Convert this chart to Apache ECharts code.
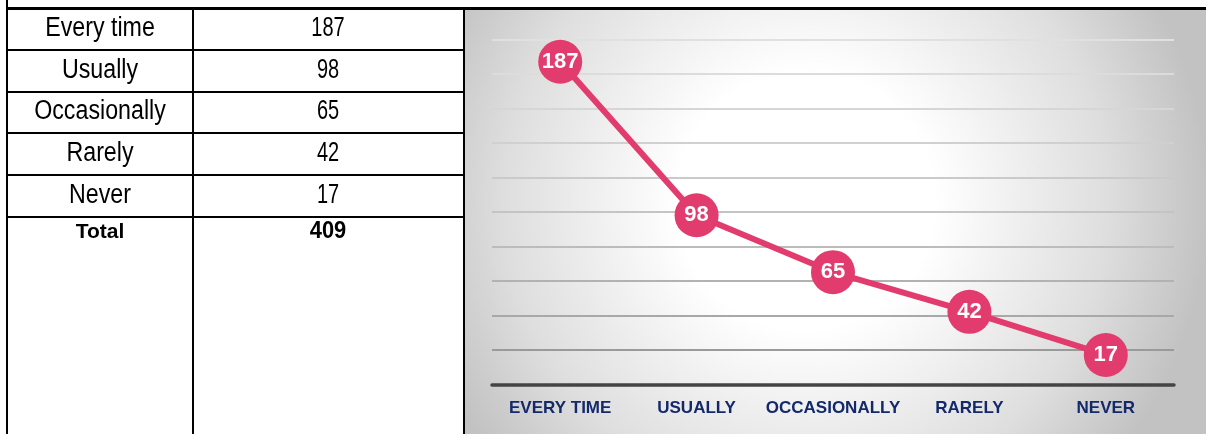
<!DOCTYPE html>
<html>
<head>
<meta charset="utf-8">
<script src="https://cdn.jsdelivr.net/npm/echarts@6/dist/echarts.min.js"></script>
<style>
  html, body { margin: 0; padding: 0; background: #fff; }
  #chart { width: 1206px; height: 434px; }
</style>
</head>
<body>
<div id="chart"></div>
<script>
// Survey responses: how often respondents do it
const rowLabels = ['Every time', 'Usually', 'Occasionally', 'Rarely', 'Never'];
const responseCounts = [187, 98, 65, 42, 17];
const totalLabel = 'Total';
const totalCount = 409;
const axisCategories = ['EVERY TIME', 'USUALLY', 'OCCASIONALLY', 'RARELY', 'NEVER'];
const yMin = 0;
const yMax = 200;
const yStep = 20;

// Gridline shading, bottom line first, fading upward
const gridShades = ['#9a9a9a', '#9a9a9a', '#a8a8a8', '#b2b2b2', '#bcbcbc', '#c4c4c4',
                    '#cacaca', '#d0d0d0', '#d6d6d6', '#dcdcdc', '#e0e0e0'];

const PINK = '#e23c6e';
const NAVY = '#13296b';

// Table geometry
const colX = [7, 193, 463];
const rowY = [8.5, 50, 92, 133, 175, 217];
const tableBottom = 434;

const graphics = [];

// Shaded panel behind the line chart
graphics.push({
  type: 'rect',
  z: -10,
  shape: { x: 465, y: 10, width: 741, height: 424 },
  style: {
    fill: {
      type: 'radial', x: 0.46, y: 0.45, r: 0.95,
      colorStops: [
        { offset: 0, color: '#ffffff' },
        { offset: 0.32, color: '#ffffff' },
        { offset: 0.75, color: '#dedede' },
        { offset: 1, color: '#c2c2c2' }
      ]
    }
  }
});

function hLine(x1, x2, y, w) {
  graphics.push({ type: 'line', z: 5, shape: { x1: x1, y1: y, x2: x2, y2: y },
    style: { stroke: '#000', lineWidth: w } });
}
function vLine(x, y1, y2, w) {
  graphics.push({ type: 'line', z: 5, shape: { x1: x, y1: y1, x2: x, y2: y2 },
    style: { stroke: '#000', lineWidth: w } });
}

// Table borders
vLine(colX[0], 0, tableBottom, 2);
vLine(colX[1], rowY[0], tableBottom, 2);
vLine(colX[2] + 1, rowY[0], tableBottom, 2);
hLine(colX[0] - 1, 1206, rowY[0], 3);
for (let i = 1; i < rowY.length; i++) hLine(colX[0], colX[2] + 2, rowY[i], 2);

// Table cell text; the body face is a condensed Arial-style sans, so squeeze horizontally
function cellText(txt, cx, cy, size, weight, squeeze) {
  graphics.push({
    type: 'text', z: 6, x: cx, y: cy, scaleX: squeeze,
    style: {
      text: String(txt), fill: '#000', fontSize: size, fontWeight: weight,
      fontFamily: '"Liberation Sans", Arial, sans-serif',
      align: 'center', verticalAlign: 'middle'
    }
  });
}

for (let i = 0; i < rowLabels.length; i++) {
  const cy = (rowY[i] + rowY[i + 1]) / 2 - 0.5;
  cellText(rowLabels[i], (colX[0] + colX[1]) / 2, cy, 27, 'normal', 0.86);
  cellText(responseCounts[i], (colX[1] + colX[2]) / 2, cy, 27, 'normal', 0.74);
}
cellText(totalLabel, (colX[0] + colX[1]) / 2, 232, 21, 'bold', 1);
cellText(totalCount, (colX[1] + colX[2]) / 2, 232, 23, 'bold', 0.95);

const chart = echarts.init(document.getElementById('chart'), null, { renderer: 'canvas' });
chart.setOption({
  animation: false,
  backgroundColor: '#ffffff',
  graphic: { elements: graphics },
  grid: { left: 492, right: 32, top: 39.3, bottom: 49.7, containLabel: false },
  xAxis: {
    type: 'category',
    data: axisCategories,
    boundaryGap: true,
    axisLine: { show: true, lineStyle: { color: '#444444', width: 3.5 } },
    axisTick: { show: false },
    axisLabel: {
      interval: 0, hideOverlap: false,
      color: NAVY, fontWeight: 'bold', fontSize: 17, margin: 16,
      fontFamily: '"Liberation Sans", Arial, sans-serif'
    },
    splitLine: { show: false }
  },
  yAxis: {
    type: 'value',
    min: yMin, max: yMax, interval: yStep,
    axisLine: { show: false },
    axisTick: { show: false },
    axisLabel: { show: false },
    splitLine: { show: true, lineStyle: { color: gridShades, width: 2 } }
  },
  series: [{
    type: 'line',
    data: responseCounts,
    symbol: 'circle',
    symbolSize: 44,
    z: 3,
    lineStyle: { color: PINK, width: 6 },
    itemStyle: { color: PINK },
    label: {
      show: true, position: 'inside', formatter: '{c}',
      color: '#ffffff', fontSize: 22, fontWeight: 'bold',
      fontFamily: '"Liberation Sans", Arial, sans-serif'
    }
  }]
});
</script>
</body>
</html>
